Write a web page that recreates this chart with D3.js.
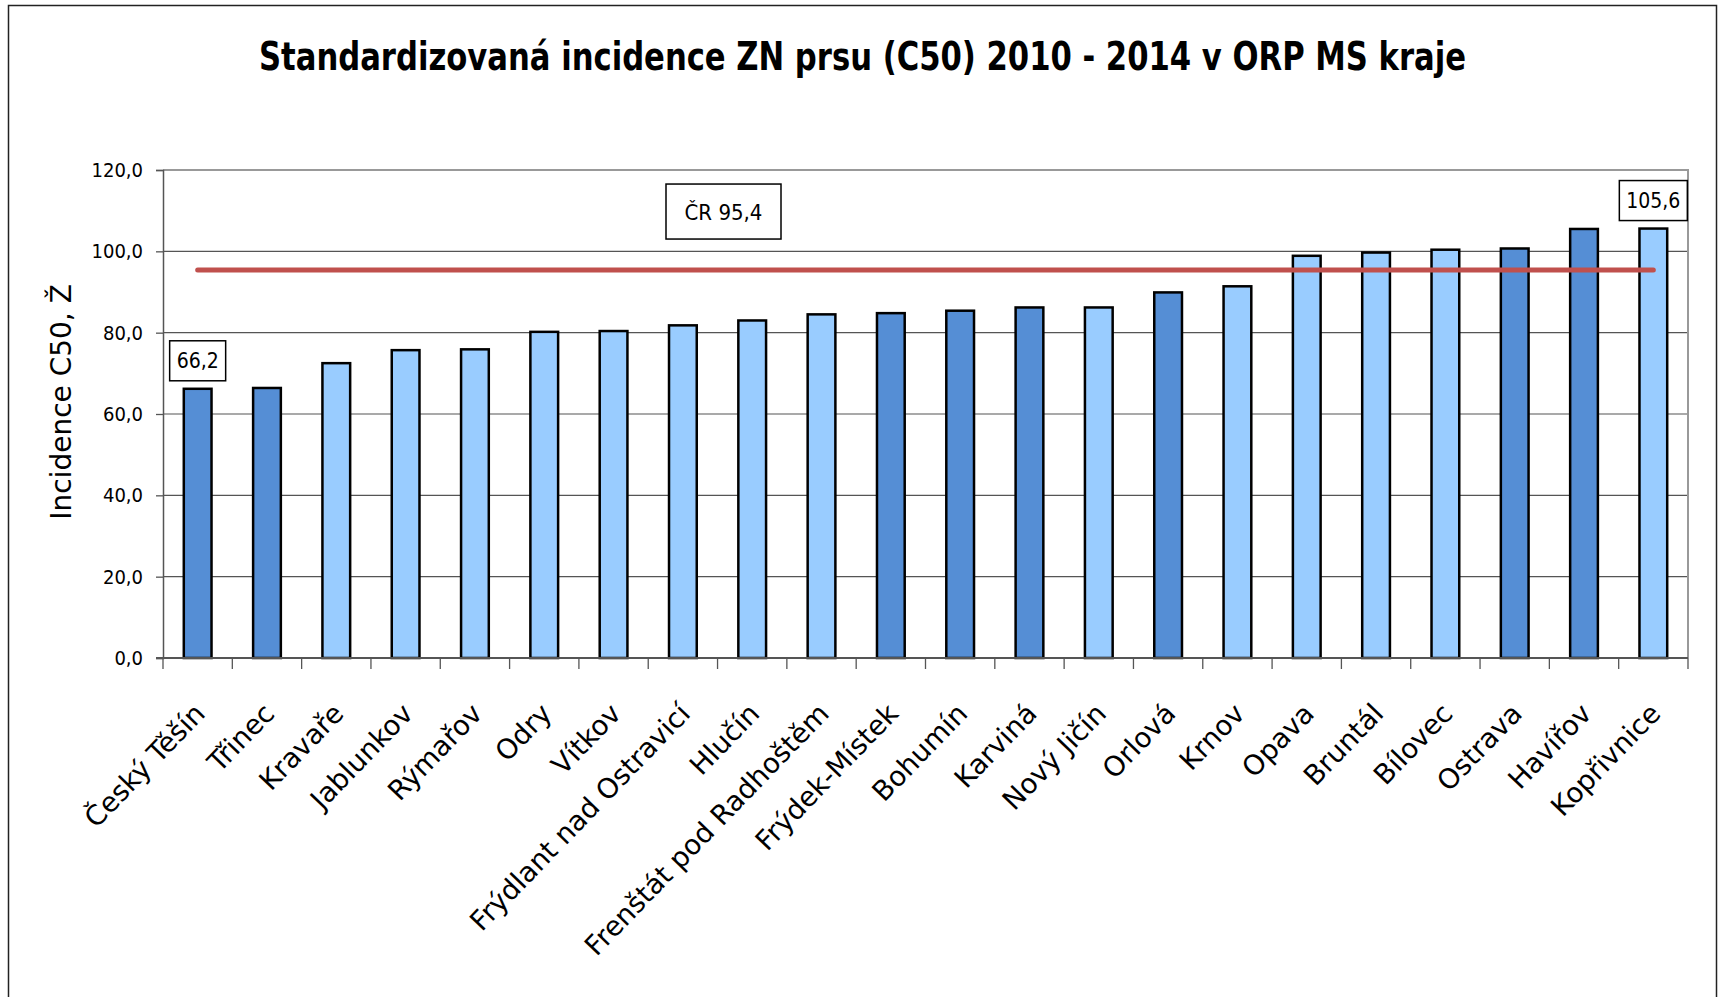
<!DOCTYPE html>
<html>
<head>
<meta charset="utf-8">
<script src="https://cdn.jsdelivr.net/npm/d3@7"></script>
<style>
  body { margin: 0; background: #fff; }
  svg { display: block; }
</style>
</head>
<body>
<div id="chart"></div>
<script>
// Data
const categories = ["Český Těšín", "Třinec", "Kravaře", "Jablunkov", "Rýmařov", "Odry", "Vítkov",
  "Frýdlant nad Ostravicí", "Hlučín", "Frenštát pod Radhoštěm", "Frýdek-Místek", "Bohumín", "Karviná",
  "Nový Jičín", "Orlová", "Krnov", "Opava", "Bruntál", "Bílovec", "Ostrava", "Havířov", "Kopřivnice"];
const values = [66.2, 66.4, 72.5, 75.7, 75.9, 80.2, 80.4, 81.8, 83.0, 84.5, 84.8, 85.4, 86.2,
  86.2, 89.9, 91.4, 98.9, 99.7, 100.4, 100.7, 105.5, 105.6];
// bars drawn in the darker blue
const darkBars = ["Český Těšín", "Třinec", "Frýdek-Místek", "Bohumín", "Karviná", "Orlová", "Ostrava", "Havířov"];
const crValue = 95.4;
const crLabel = "ČR 95,4";
const labelled = ["Český Těšín", "Kopřivnice"];
const yTicks = [0, 20, 40, 60, 80, 100, 120];
const title = "Standardizovaná incidence ZN prsu (C50) 2010 - 2014 v ORP MS kraje";
const yTitle = "Incidence C50, Ž";

const W = 1719, H = 997;
const plot = { left: 163, right: 1688, top: 170, bottom: 658 };
const narrow = "'DejaVu Sans Condensed', 'DejaVu Sans', sans-serif";
const wide = "'DejaVu Sans', Verdana, sans-serif";
const fmt = v => v.toFixed(1).replace(".", ",");

const rows = categories.map((c, i) => ({ name: c, value: values[i] }));

const svg = d3.select("#chart").append("svg")
  .attr("width", W)
  .attr("height", H);

svg.append("rect")
  .attr("width", W).attr("height", H)
  .attr("fill", "#fff");

// outer frame
svg.append("rect")
  .attr("x", 8.5).attr("y", 5.5)
  .attr("width", 1708).attr("height", 1010)
  .attr("fill", "none")
  .attr("stroke", "#222")
  .attr("stroke-width", 1.5);

// title
svg.append("text")
  .attr("x", 259).attr("y", 70)
  .attr("textLength", 1207)
  .attr("lengthAdjust", "spacingAndGlyphs")
  .style("font-family", narrow)
  .style("font-stretch", "condensed")
  .style("font-weight", "bold")
  .style("font-size", "39px")
  .attr("fill", "#000")
  .text(title);

const x = d3.scaleBand()
  .domain(categories)
  .range([plot.left, plot.right])
  .paddingInner(0.6)
  .paddingOuter(0.3);

const y = d3.scaleLinear()
  .domain([0, 120])
  .range([plot.bottom, plot.top]);

// gridlines
svg.append("g")
  .selectAll("line")
  .data(yTicks.filter(t => t > 0 && t < 120))
  .enter().append("line")
  .attr("x1", plot.left).attr("x2", plot.right)
  .attr("y1", d => y(d)).attr("y2", d => y(d))
  .attr("stroke", "#555")
  .attr("stroke-width", 1.2);

// plot frame (top/right)
svg.append("path")
  .attr("d", `M${plot.left},${y(120)}H${plot.right}V${plot.bottom}`)
  .attr("fill", "none")
  .attr("stroke", "#999")
  .attr("stroke-width", 2);

// y axis
const yAxis = svg.append("g")
  .attr("transform", `translate(${plot.left},0)`)
  .call(d3.axisLeft(y).tickValues(yTicks).tickSize(7).tickPadding(13).tickFormat(fmt));
yAxis.select(".domain").attr("stroke", "#555").attr("stroke-width", 1.5);
yAxis.selectAll(".tick line").attr("stroke", "#555").attr("stroke-width", 1.3);
yAxis.selectAll(".tick text")
  .style("font-family", narrow)
  .style("font-stretch", "condensed")
  .style("font-size", "20px")
  .attr("fill", "#000");

// bars
svg.append("g")
  .selectAll("rect")
  .data(rows)
  .enter().append("rect")
  .attr("x", d => x(d.name))
  .attr("y", d => y(d.value))
  .attr("width", x.bandwidth())
  .attr("height", d => y(0) - y(d.value))
  .attr("fill", d => darkBars.includes(d.name) ? "#558ED5" : "#99CCFF")
  .attr("stroke", "#000")
  .attr("stroke-width", 2.5);

// x axis: ticks between categories
const step = x.step();
const bounds = d3.range(categories.length + 1).map(i => plot.left + i * step);
svg.append("g")
  .selectAll("line")
  .data(bounds)
  .enter().append("line")
  .attr("x1", d => d).attr("x2", d => d)
  .attr("y1", plot.bottom).attr("y2", plot.bottom + 11)
  .attr("stroke", "#555")
  .attr("stroke-width", 1.3);
svg.append("line")
  .attr("x1", plot.left - 7).attr("x2", plot.right)
  .attr("y1", plot.bottom).attr("y2", plot.bottom)
  .attr("stroke", "#555")
  .attr("stroke-width", 2);

// category labels
svg.append("g")
  .selectAll("text")
  .data(categories)
  .enter().append("text")
  .attr("transform", d => `translate(${x(d) + x.bandwidth() / 2 + 9},${plot.bottom + 57}) rotate(-46)`)
  .attr("text-anchor", "end")
  .style("font-family", wide)
  .style("font-size", "27.5px")
  .attr("fill", "#000")
  .text(d => d);

// y title
svg.append("text")
  .attr("transform", `translate(71,${(plot.top + plot.bottom) / 2 - 12}) rotate(-90)`)
  .attr("text-anchor", "middle")
  .style("font-family", wide)
  .style("font-size", "28px")
  .attr("fill", "#000")
  .text(yTitle);

// CR line
const cx = d => x(d) + x.bandwidth() / 2;
svg.append("line")
  .attr("x1", cx(categories[0]))
  .attr("x2", cx(categories[categories.length - 1]))
  .attr("y1", y(crValue)).attr("y2", y(crValue))
  .attr("stroke", "#C0504D")
  .attr("stroke-width", 5)
  .attr("stroke-linecap", "round");

// CR label box
const crBox = { x: plot.left + 503, y: y(crValue) - 86, w: 115, h: 55 };
svg.append("rect")
  .attr("x", crBox.x).attr("y", crBox.y)
  .attr("width", crBox.w).attr("height", crBox.h)
  .attr("fill", "#fff").attr("stroke", "#000").attr("stroke-width", 1.5);
svg.append("text")
  .attr("x", crBox.x + crBox.w / 2).attr("y", crBox.y + crBox.h / 2 + 8)
  .attr("text-anchor", "middle")
  .style("font-family", narrow)
  .style("font-stretch", "condensed")
  .style("font-size", "22px")
  .text(crLabel);

// value labels on first and last bar
const lab = svg.append("g")
  .selectAll("g")
  .data(rows.filter(d => labelled.includes(d.name)))
  .enter().append("g")
  .attr("transform", d => `translate(${cx(d.name)},${y(d.value) - 8})`);
lab.append("rect")
  .attr("x", d => d.value > 100 ? -34 : -28)
  .attr("y", -40)
  .attr("width", d => d.value > 100 ? 68 : 56)
  .attr("height", 40)
  .attr("fill", "#fff").attr("stroke", "#000").attr("stroke-width", 1.5);
lab.append("text")
  .attr("y", -13)
  .attr("text-anchor", "middle")
  .style("font-family", narrow)
  .style("font-stretch", "condensed")
  .style("font-size", "21px")
  .text(d => fmt(d.value));
</script>
</body>
</html>
